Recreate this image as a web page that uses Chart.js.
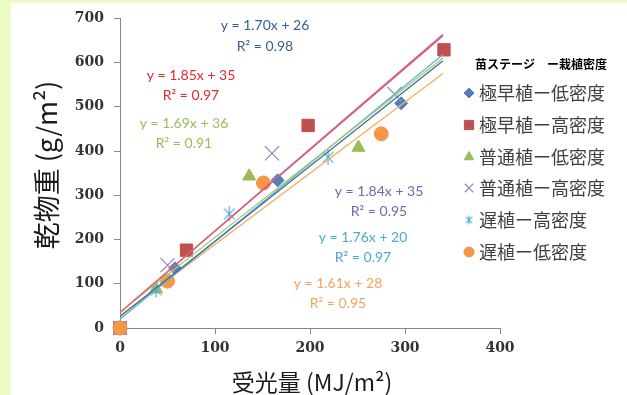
<!DOCTYPE html>
<html>
<head>
<meta charset="utf-8">
<script src="https://cdn.jsdelivr.net/npm/chart.js@4.4.1/dist/chart.umd.min.js"></script>
<style>
  html, body { margin: 0; padding: 0; background: #ffffff; }
  canvas { display: block; }
</style>
</head>
<body>
<canvas id="chart" width="627" height="395"></canvas>
<script>
// Series names (苗ステージ ー 栽植密度)
const seriesNames = ['極早植ー低密度', '極早植ー高密度', '普通植ー低密度', '普通植ー高密度', '遅植ー高密度', '遅植ー低密度'];

// Intercepted light (MJ/m²) and dry weight (g/m²) per series
const veryEarlyLowX  = [0, 58, 166, 296];
const veryEarlyLowY  = [0, 135, 334, 508];
const veryEarlyHighX = [0, 70, 198, 341];
const veryEarlyHighY = [0, 176, 458, 629];
const normalLowX     = [0, 38, 136, 251];
const normalLowY     = [0, 88, 343, 408];
const normalHighX    = [0, 50, 160, 289];
const normalHighY    = [0, 142, 395, 529];
const lateHighX      = [0, 38, 115, 219];
const lateHighY      = [0, 86, 258, 386];
const lateLowX       = [0, 50, 151, 275];
const lateLowY       = [0, 106, 328, 439];

// Linear fits: y = slope·x + intercept, with R²
const slopes     = [1.70, 1.85, 1.69, 1.84, 1.76, 1.61];
const intercepts = [26, 35, 36, 35, 20, 28];
const rSquared   = [0.98, 0.97, 0.91, 0.95, 0.97, 0.95];
const fitRangeX  = [0, 340];

// Axis ranges
const xAxisMin = 0, xAxisMax = 400, xAxisStep = 100;
const yAxisMin = 0, yAxisMax = 700, yAxisStep = 100;

const seriesX = [veryEarlyLowX, veryEarlyHighX, normalLowX, normalHighX, lateHighX, lateLowX];
const seriesY = [veryEarlyLowY, veryEarlyHighY, normalLowY, normalHighY, lateHighY, lateLowY];

// Asterisk marker (vertical bar + X), drawn once into a small canvas
function makeAsterisk(size, color, lw) {
  const c = document.createElement('canvas');
  c.width = size; c.height = size;
  const g = c.getContext('2d');
  g.strokeStyle = color; g.lineWidth = lw;
  const m = size / 2, r = size / 2 - 1;
  const d = r * Math.SQRT1_2;
  g.beginPath();
  g.moveTo(m, m - r); g.lineTo(m, m + r);
  g.moveTo(m - d, m - d); g.lineTo(m + d, m + d);
  g.moveTo(m - d, m + d); g.lineTo(m + d, m - d);
  g.stroke();
  return c;
}
const asteriskBig = makeAsterisk(17, '#4BACC6', 1.2);
const asteriskSmall = makeAsterisk(11, '#4BACC6', 1.1);

const markerStyles = [
  { pointStyle: 'rectRot',  radius: 6.5, fill: '#4F81BD', stroke: '#4F81BD', width: 1,   legendRadius: 5 },
  { pointStyle: 'rect',     radius: 8.7, fill: '#C0504D', stroke: '#C0504D', width: 1,   legendRadius: 6.5 },
  { pointStyle: 'triangle', radius: 7.5, fill: '#9BBB59', stroke: '#9BBB59', width: 1,   legendRadius: 5.5 },
  { pointStyle: 'crossRot', radius: 10,  fill: '#8064A2', stroke: '#9C8DC0', width: 1.3, legendRadius: 6 },
  { pointStyle: asteriskBig, radius: 8,  fill: '#4BACC6', stroke: '#4BACC6', width: 1,   legendStyle: asteriskSmall, legendRadius: 5 },
  { pointStyle: 'circle',   radius: 7,   fill: '#F79646', stroke: '#F79646', width: 1,   legendRadius: 5 }
];
const trendColors = ['#3C6AA8', '#E0607E', '#A9C873', '#C0507A', '#5FB8C9', '#F5B060'];
const labelColors = ['#376092', '#E0282E', '#9BBB59', '#8064A2', '#4BACC6', '#F2A55A'];
const labelCenters = [[265, 25, 46], [191, 75, 95], [184, 123, 143], [379, 191, 211], [363, 237, 257], [338, 283, 303]];

const datasets = [];
seriesNames.forEach((name, i) => {
  const s = markerStyles[i];
  datasets.push({
    type: 'scatter',
    label: name,
    data: seriesX[i].map((x, k) => ({ x: x, y: seriesY[i][k] })),
    pointStyle: s.pointStyle,
    pointRadius: s.radius,
    pointHoverRadius: s.radius,
    pointBackgroundColor: s.fill,
    pointBorderColor: s.stroke,
    pointBorderWidth: s.width,
    showLine: false,
    clip: false,
    order: 6 - i + 1
  });
});
seriesNames.forEach((name, i) => {
  datasets.push({
    type: 'line',
    label: name + ' fit',
    data: fitRangeX.map(x => ({ x: x, y: slopes[i] * x + intercepts[i] })),
    borderColor: trendColors[i],
    borderWidth: 1.3,
    pointRadius: 0,
    fill: false,
    tension: 0,
    order: 0
  });
});

const backdrop = {
  id: 'backdrop',
  beforeDraw(chart) {
    const ctx = chart.ctx;
    ctx.save();
    ctx.fillStyle = '#EAFCC4';
    ctx.fillRect(0, 0, chart.width, chart.height);
    ctx.fillStyle = '#FFFFFF';
    ctx.fillRect(11, 3, chart.width - 11, chart.height - 3);
    ctx.restore();
  }
};

const annotations = {
  id: 'annotations',
  afterDraw(chart) {
    const ctx = chart.ctx;
    ctx.save();
    // fit equations
    ctx.textAlign = 'center';
    ctx.textBaseline = 'middle';
    ctx.font = '14px Lato, "Open Sans", sans-serif';
    seriesNames.forEach((n, i) => {
      const [cx, y1, y2] = labelCenters[i];
      ctx.fillStyle = labelColors[i];
      ctx.fillText('y = ' + slopes[i].toFixed(2) + 'x + ' + intercepts[i], cx, y1);
      ctx.fillText('R² = ' + rSquared[i].toFixed(2), cx, y2);
    });

    // axis titles
    ctx.fillStyle = '#1a1a1a';
    ctx.font = '23px "Noto Sans CJK JP", sans-serif';
    ctx.fillText('受光量 (MJ/m²)', 312, 382);
    ctx.save();
    ctx.translate(47, 165);
    ctx.rotate(-Math.PI / 2);
    ctx.font = '27px "Noto Sans CJK JP", sans-serif';
    ctx.fillText('乾物重 (g/m²)', 0, 0);
    ctx.restore();

    // legend
    ctx.textAlign = 'left';
    ctx.fillStyle = '#000000';
    ctx.font = 'bold 12px "Noto Sans CJK JP", sans-serif';
    ctx.fillText('苗ステージ　ー栽植密度', 475, 64);
    ctx.font = '18px "Noto Sans CJK JP", sans-serif';
    const rowY = [93, 125, 157, 188, 220, 252];
    seriesNames.forEach((n, i) => {
      const s = markerStyles[i];
      ctx.fillStyle = s.fill;
      ctx.strokeStyle = s.stroke;
      ctx.lineWidth = s.width;
      Chart.helpers.drawPoint(ctx, {
        pointStyle: s.legendStyle || s.pointStyle,
        radius: s.legendRadius,
        rotation: 0,
        borderWidth: s.width
      }, 469, rowY[i]);
      ctx.fillStyle = '#404040';
      ctx.fillText(n, 479, rowY[i]);
    });
    ctx.restore();
  }
};

new Chart(document.getElementById('chart'), {
  data: { datasets: datasets },
  options: {
    responsive: false,
    animation: false,
    events: [],
    layout: { padding: { left: 0, top: 17, right: 127, bottom: 0 } },
    plugins: { legend: { display: false }, tooltip: { enabled: false }, title: { display: false } },
    scales: {
      x: {
        type: 'linear',
        min: xAxisMin, max: xAxisMax,
        ticks: { stepSize: xAxisStep, color: '#333333', padding: 6,
                 font: { family: '"DejaVu Serif", serif', size: 14, weight: 'bold' } },
        grid: { display: true, drawOnChartArea: false, drawTicks: true, tickLength: 6, color: '#888888' },
        border: { display: true, color: '#888888', width: 1 },
        afterFit(scale) { scale.height = 67; }
      },
      y: {
        type: 'linear',
        min: yAxisMin, max: yAxisMax,
        ticks: { stepSize: yAxisStep, color: '#333333', padding: 10,
                 font: { family: '"DejaVu Serif", serif', size: 14, weight: 'bold' } },
        grid: { display: true, drawOnChartArea: false, drawTicks: true, tickLength: 6, color: '#888888' },
        border: { display: true, color: '#888888', width: 1 },
        afterFit(scale) { scale.width = 120; }
      }
    }
  },
  plugins: [backdrop, annotations]
});
</script>
</body>
</html>
